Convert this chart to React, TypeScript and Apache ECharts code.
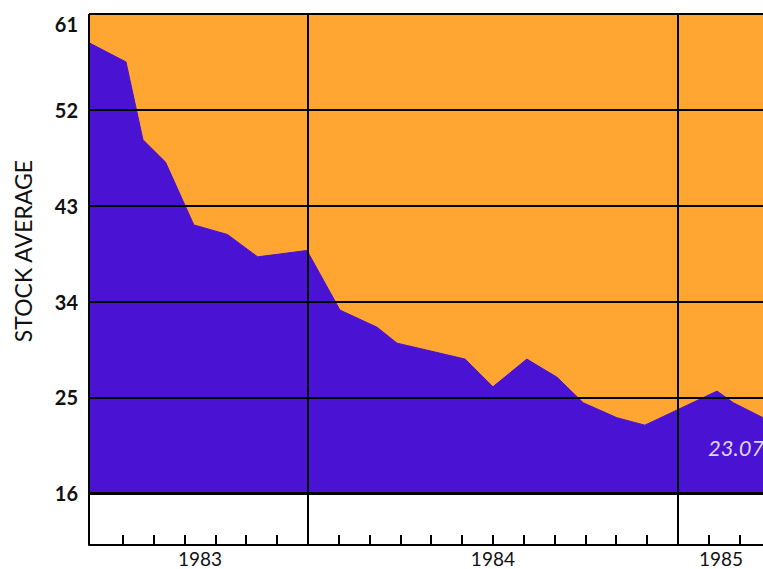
import React, { useEffect, useRef } from "react";
import * as echarts from "echarts";

// x positions: months since Jan 1983 (0 = Jan 1983, 12 = Jan 1984, 24 = Jan 1985)
const monthPos = [4.9, 6.1, 6.65, 7.38, 8.3, 9.39, 10.37, 11.97, 13.04, 14.24, 14.89, 17.1, 18.0, 19.1, 20.08, 20.93, 22.02, 22.93, 25.27, 25.8, 26.76];
const stockAverage = [58.3, 56.5, 49.2, 47.1, 41.2, 40.3, 38.2, 38.8, 33.2, 31.6, 30.1, 28.6, 26.0, 28.6, 26.9, 24.5, 23.1, 22.4, 25.6, 24.5, 23.1];

const yTickValues = [16, 25, 34, 43, 52, 61];
const yearDividers = [12, 24];
const monthTicks = [6, 7, 8, 9, 10, 11, 13, 14, 15, 16, 17, 18, 19, 20, 21, 22, 23, 25, 26];
const yearLabelPos = [8.5, 18, 25.4];
const yearLabels = ["1983", "1984", "1985"];
const axisTitle = "STOCK AVERAGE";
const lastValueLabel = "23.07";

const X_MIN = 4.9;
const X_MAX = 26.76;
const Y_MIN = 11.15;
const Y_MAX = 61;
const BASE = 16;

const ORANGE = "#FFA532";
const PURPLE = "#4A12D2";
const FONT = "Lato, 'Open Sans', sans-serif";

export default function App() {
  const ref = useRef<HTMLDivElement>(null);

  useEffect(() => {
    document.body.style.margin = "0";
    if (!ref.current) return;
    const chart = echarts.init(ref.current, undefined, { renderer: "svg" });

    const purpleData = monthPos.map((m, i) => [m, stockAverage[i]]);
    const orangeData = [
      [X_MIN, Y_MAX],
      [X_MAX, Y_MAX],
    ];

    const hLines = yTickValues.map((v) => ({
      yAxis: v,
      lineStyle: { color: "#000", width: v === BASE ? 3 : 2, type: "solid" },
    }));
    const vLines = [X_MIN, ...yearDividers].map((v) => ({
      xAxis: v,
      lineStyle: { color: "#000", width: 2, type: "solid" },
    }));

    chart.setOption({
      animation: false,
      backgroundColor: "#fff",
      grid: { left: 89, right: 0, top: 14, bottom: 24, containLabel: false },
      xAxis: {
        type: "value",
        min: X_MIN,
        max: X_MAX,
        splitLine: { show: false },
        axisLine: { show: true, onZero: false, lineStyle: { color: "#000", width: 2 } },
        axisTick: {
          show: true,
          inside: true,
          length: 10,
          customValues: monthTicks,
          lineStyle: { color: "#000", width: 2 },
        },
        axisLabel: {
          show: true,
          customValues: yearLabelPos,
          formatter: (v: number) => {
            const i = yearLabelPos.findIndex((p) => Math.abs(p - v) < 0.01);
            return i >= 0 ? yearLabels[i] : "";
          },
          color: "#111",
          fontFamily: FONT,
          fontSize: 19,
          margin: 4,
        },
      },
      yAxis: {
        type: "value",
        min: Y_MIN,
        max: Y_MAX,
        splitLine: { show: false },
        axisLine: { show: false },
        axisTick: { show: false },
        axisLabel: {
          show: true,
          customValues: yTickValues,
          color: "#111",
          fontFamily: FONT,
          fontSize: 20,
          fontWeight: "bold",
          margin: 11,
          verticalAlignMaxLabel: "top",
        },
      },
      series: [
        {
          type: "line",
          data: orangeData,
          symbol: "none",
          silent: true,
          lineStyle: { width: 0, color: ORANGE },
          areaStyle: { color: ORANGE, opacity: 1, origin: BASE },
          z: 1,
        },
        {
          type: "line",
          data: purpleData,
          symbol: "none",
          silent: true,
          lineStyle: { width: 1, color: PURPLE },
          areaStyle: { color: PURPLE, opacity: 1, origin: BASE },
          z: 2,
          markLine: {
            silent: true,
            symbol: ["none", "none"],
            label: { show: false },
            animation: false,
            z: 5,
            data: [...hLines, ...vLines],
          },
        },
      ],
      graphic: [
        {
          type: "text",
          x: 23,
          y: 251,
          rotation: Math.PI / 2,
          style: {
            text: axisTitle,
            fill: "#111",
            font: `23px ${FONT}`,
            textAlign: "center",
            textVerticalAlign: "middle",
          },
        },
        {
          type: "text",
          x: 708,
          y: 447,
          z: 10,
          style: {
            text: lastValueLabel,
            fill: "#DCD4FF",
            font: `italic 22px ${FONT}`,
            textAlign: "left",
            textVerticalAlign: "middle",
          },
        },
      ],
    });

    return () => chart.dispose();
  }, []);

  return <div ref={ref} style={{ width: 763, height: 569 }} />;
}
